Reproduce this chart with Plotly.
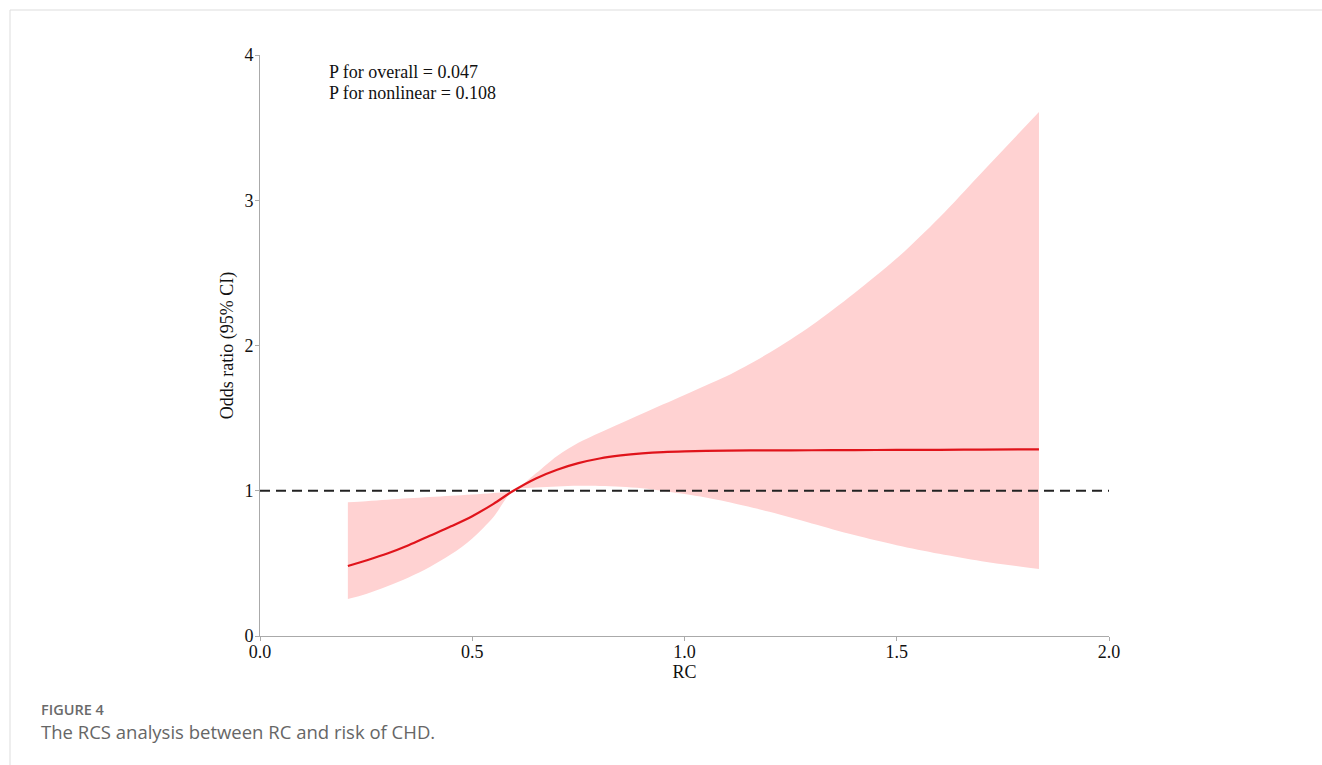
import plotly.graph_objects as go

# ---- data ----
rc = [0.207, 0.25, 0.30, 0.35, 0.40, 0.45, 0.50, 0.55, 0.597, 0.65, 0.70, 0.75,
      0.80, 0.85, 0.90, 0.95, 1.00, 1.05, 1.10, 1.20, 1.30, 1.40, 1.50, 1.60,
      1.70, 1.835]
odds_ratio = [0.482, 0.520, 0.568, 0.625, 0.690, 0.755, 0.825, 0.910, 1.000, 1.085,
              1.145, 1.190, 1.222, 1.243, 1.257, 1.266, 1.271, 1.274, 1.276, 1.278,
              1.279, 1.280, 1.281, 1.282, 1.283, 1.285]
ci_upper = [0.920, 0.928, 0.938, 0.948, 0.957, 0.966, 0.975, 0.985, 1.000, 1.120,
            1.240, 1.330, 1.400, 1.465, 1.530, 1.595, 1.660, 1.725, 1.790, 1.950,
            2.140, 2.360, 2.600, 2.880, 3.190, 3.607]
ci_lower = [0.255, 0.290, 0.343, 0.403, 0.475, 0.562, 0.672, 0.820, 1.000, 1.022,
            1.030, 1.034, 1.033, 1.028, 1.017, 0.998, 0.977, 0.953, 0.924, 0.855,
            0.775, 0.695, 0.625, 0.566, 0.515, 0.461]
ref_x = [0.0, 2.0]
ref_y = [1.0, 1.0]
x_ticks = [0.0, 0.5, 1.0, 1.5, 2.0]
y_ticks = [0, 1, 2, 3, 4]
p_texts = ["P for overall = 0.047", "P for nonlinear = 0.108"]
caption_label = "FIGURE 4"
caption_text = "The RCS analysis between RC and risk of CHD."

W, H = 1322, 765
ML, MR, MT, MB = 260, 213, 55, 129
PW, PH = W - ML - MR, H - MT - MB


def px(x):
    return (x - ML) / PW


def py(y):
    return (H - MB - y) / PH


serif = "Liberation Serif"
FS = 18

fig = go.Figure()
fig.add_trace(go.Scatter(x=rc, y=ci_lower, mode="lines", line=dict(width=0, shape="spline", smoothing=0.9),
                         hoverinfo="skip", showlegend=False))
fig.add_trace(go.Scatter(x=rc, y=ci_upper, mode="lines", line=dict(width=0, shape="spline", smoothing=0.9),
                         fill="tonexty", fillcolor="#FFD2D2", hoverinfo="skip", showlegend=False))
fig.add_trace(go.Scatter(x=ref_x, y=ref_y, mode="lines",
                         line=dict(color="#222222", width=2, dash="10px,6px"), showlegend=False))
fig.add_trace(go.Scatter(x=rc, y=odds_ratio, mode="lines",
                         line=dict(color="#E0141B", width=2.2, shape="spline", smoothing=0.9), showlegend=False))

axis_common = dict(showgrid=False, zeroline=False, showline=True, linecolor="#aaaaaa", linewidth=1,
                   ticks="outside", ticklen=4, tickcolor="#aaaaaa",
                   tickfont=dict(family=serif, size=FS, color="#111111"))

fig.update_xaxes(range=[0, 2], tickvals=x_ticks, ticktext=[f"{v:.1f}" for v in x_ticks],
                 ticklabelstandoff=-5,
                 title=dict(text="RC", font=dict(family=serif, size=FS, color="#111111"), standoff=1),
                 **axis_common)
fig.update_yaxes(range=[0, 4], tickvals=y_ticks, ticktext=[str(v) for v in y_ticks],
                 ticklabelstandoff=-2,
                 title=dict(text="Odds ratio (95% CI)", font=dict(family=serif, size=FS, color="#111111"),
                            standoff=6),
                 **axis_common)

annotations = []
for i, t in enumerate(p_texts):
    annotations.append(dict(text=t, xref="paper", yref="paper", x=px(327), y=py(72 + 21 * i),
                            xanchor="left", yanchor="middle", showarrow=False,
                            font=dict(family=serif, size=FS, color="#111111")))
annotations.append(dict(text=caption_label, xref="paper", yref="paper", x=px(39), y=py(709),
                        xanchor="left", yanchor="middle", showarrow=False,
                        font=dict(family="Open Sans", size=14.5, color="#6a6a6a", weight=600)))
annotations.append(dict(text=caption_text, xref="paper", yref="paper", x=px(39), y=py(731),
                        xanchor="left", yanchor="middle", showarrow=False,
                        font=dict(family="Open Sans", size=18.5, color="#666666")))

shapes = [
    dict(type="line", xref="paper", yref="paper", x0=px(10), x1=px(10), y0=py(10), y1=py(765),
         line=dict(color="#dddddd", width=1)),
    dict(type="line", xref="paper", yref="paper", x0=px(10), x1=px(1322), y0=py(10), y1=py(10),
         line=dict(color="#dddddd", width=1)),
]

fig.update_layout(width=W, height=H, margin=dict(l=ML, r=MR, t=MT, b=MB, autoexpand=False),
                  plot_bgcolor="white", paper_bgcolor="white",
                  annotations=annotations, shapes=shapes, showlegend=False)

fig.write_html("out.html")
